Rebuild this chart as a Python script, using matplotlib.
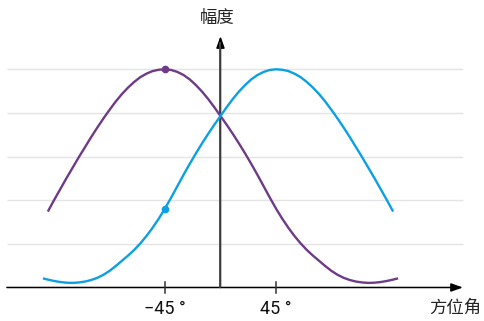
import matplotlib
matplotlib.use("Agg")
import matplotlib.pyplot as plt
from matplotlib import font_manager

# ---- data ----
purple_angle = [-140, -135, -130, -125, -120, -115, -110, -105, -100, -95, -90, -85, -80, -75, -70,
                -65, -60, -55, -50, -45, -40, -35, -30, -25, -20, -15, -10, -5, 0, 5, 10, 15, 20,
                25, 30, 35, 40, 45, 50, 55, 60, 65, 70, 75, 80, 85, 90, 95, 100, 105, 110, 115,
                120, 125, 130, 135, 140, 144]
purple_value = [1.74, 2.00, 2.25, 2.50, 2.74, 2.98, 3.21, 3.44, 3.66, 3.87, 4.07, 4.26, 4.43, 4.58, 4.71,
                4.82, 4.90, 4.96, 4.99, 5.00, 4.985, 4.94, 4.87, 4.77, 4.64, 4.49, 4.32, 4.13, 3.93, 3.73,
                3.52, 3.30, 3.07, 2.83, 2.58, 2.32, 2.06, 1.81, 1.58, 1.37, 1.18, 1.01, 0.86, 0.73, 0.61,
                0.49, 0.38, 0.29, 0.22, 0.17, 0.135, 0.115, 0.105, 0.11, 0.125, 0.15, 0.18, 0.21]
blue_angle = [-144, -140, -135, -130, -125, -120, -115, -110, -105, -100, -95, -90, -85, -80, -75,
              -70, -65, -60, -55, -50, -45, -40, -35, -30, -25, -20, -15, -10, -5, 0, 5, 10, 15,
              20, 25, 30, 35, 40, 45, 50, 55, 60, 65, 70, 75, 80, 85, 90, 95, 100, 105, 110, 115,
              120, 125, 130, 135, 140]
blue_value = [0.21, 0.18, 0.15, 0.125, 0.11, 0.105, 0.115, 0.135, 0.17, 0.22, 0.29, 0.38, 0.49, 0.61, 0.73,
              0.86, 1.01, 1.18, 1.37, 1.58, 1.81, 2.06, 2.32, 2.58, 2.83, 3.07, 3.30, 3.52, 3.73, 3.93,
              4.13, 4.32, 4.49, 4.64, 4.77, 4.87, 4.94, 4.985, 5.00, 4.99, 4.96, 4.90, 4.82, 4.71, 4.58,
              4.43, 4.26, 4.07, 3.87, 3.66, 3.44, 3.21, 2.98, 2.74, 2.50, 2.25, 2.00, 1.74]
purple_marker = (-45, 5.00)
blue_marker = (-45, 1.81)
grid_levels = [1, 2, 3, 4, 5]
tick_angles = [-45, 45]
tick_labels = ["\u221245 \u00b0", "45 \u00b0"]
y_label = "幅度"
x_label = "方位角"

PURPLE = "#6d3b87"
BLUE = "#0ba0e2"
AXIS = "#333333"

avail = {f.name for f in font_manager.fontManager.ttflist}
narrow = "Liberation Sans Narrow" if "Liberation Sans Narrow" in avail else "Roboto"

fig = plt.figure(figsize=(4.84, 3.21), dpi=100)
ax = fig.add_axes([0, 0, 1, 1])
ax.set_xlim(-178.8, 213.7)
ax.set_ylim(-0.768, 6.588)
ax.axis("off")

x_left, x_right = -173.2, 196.6
ax.hlines(grid_levels, x_left, x_right, colors="#e4e4e4", linewidth=1.0, zorder=1)

# axes with arrows
ax.annotate("", xy=(x_right, 0), xytext=(x_left, 0),
            arrowprops=dict(arrowstyle="-|>,head_length=0.7,head_width=0.25",
                            color="black", lw=1.1, shrinkA=0, shrinkB=0), zorder=3)
ax.annotate("", xy=(0, 5.76), xytext=(0, 0),
            arrowprops=dict(arrowstyle="-|>,head_length=0.7,head_width=0.25",
                            color="black", lw=1.1, shrinkA=0, shrinkB=0), zorder=3)
ax.plot([0, 0], [0, 5.6], color="#444444", lw=1.3, zorder=3)

for a, lab in zip(tick_angles, tick_labels):
    ax.plot([a, a], [-0.12, 0.12], color=AXIS, lw=1.1, zorder=3)
    ax.text(a, -0.49, lab, ha="center", va="center", fontsize=13,
            family=[narrow, "DejaVu Sans"], color="#111111")

ax.plot(purple_angle, purple_value, color=PURPLE, lw=1.7, zorder=4,
        solid_capstyle="butt", solid_joinstyle="round")
ax.plot(blue_angle, blue_value, color=BLUE, lw=1.7, zorder=4,
        solid_capstyle="butt", solid_joinstyle="round")
ax.plot(*purple_marker, "o", color=PURPLE, ms=4.5, zorder=5)
ax.plot(*blue_marker, "o", color=BLUE, ms=4.5, zorder=5)

ax.text(-2.5, 6.17, y_label, ha="center", va="center", fontsize=12.5,
        family=["Noto Sans CJK SC", "DejaVu Sans"], color="#222222")
ax.text(190, -0.47, x_label, ha="center", va="center", fontsize=12.5,
        family=["Noto Sans CJK SC", "DejaVu Sans"], color="#222222")

fig.savefig("out.png", dpi=100)
